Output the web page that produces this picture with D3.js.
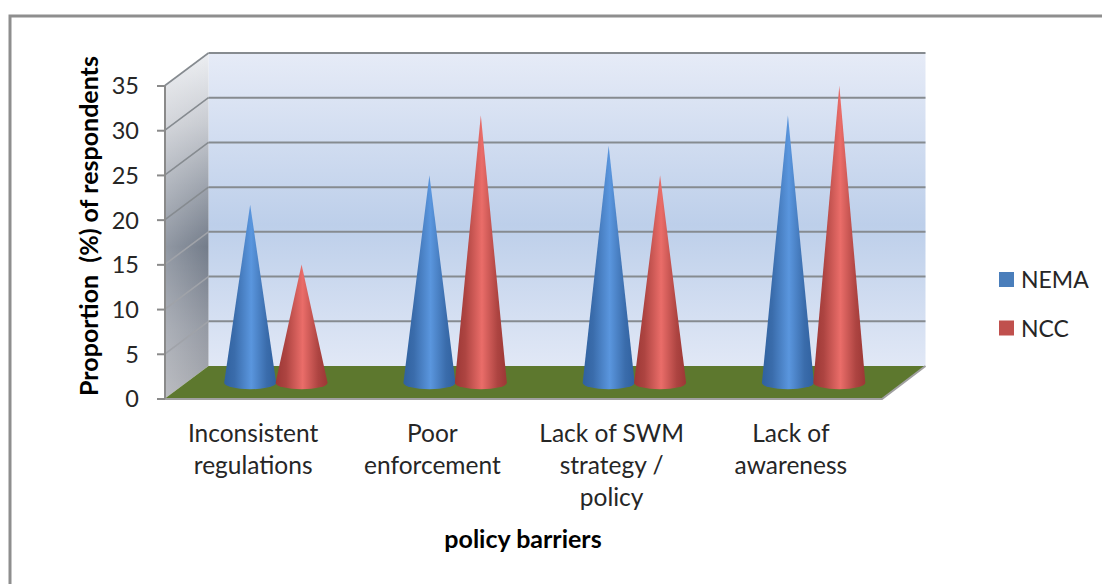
<!DOCTYPE html>
<html>
<head>
<meta charset="utf-8">
<script src="https://cdnjs.cloudflare.com/ajax/libs/d3/7.9.0/d3.min.js"></script>
<style>
  html, body { margin: 0; padding: 0; background: #fff; }
  svg { display: block; }
  text { font-family: Lato, "Open Sans", sans-serif; fill: #262626; white-space: pre; }
  text.title { fill: #000; font-weight: 700; font-size: 25px; }
</style>
</head>
<body>
<svg id="chart" width="1102" height="584"></svg>
<script>
// Survey results: share of respondents naming each policy barrier.
const categories = [["Inconsistent", "regulations"], ["Poor", "enforcement"], ["Lack of SWM", "strategy /", "policy"], ["Lack of", "awareness"]];
const seriesNames = ["NEMA", "NCC"];
const nemaValues = [19.8, 23.1, 26.4, 29.8];
const nccValues = [13.1, 29.8, 23.1, 33.1];
const yTicks = [0, 5, 10, 15, 20, 25, 30, 35];
const seriesColors = { NEMA: ["#3a6cab", "#5a96de", "#30619f", "#4a7ebb"], NCC: ["#ad4441", "#ea6d69", "#9c3735", "#c0504d"] };

const svg = d3.select("#chart");
const defs = svg.append("defs");

// Frame of the oblique 3-D box: front plane plus a depth offset toward the back wall.
const frontLeft = 165, frontRight = 882, frontBase = 398.5, frontTop = 85.5;
const depthX = 43.5, depthY = -32.5;

const y = d3.scaleLinear().domain([0, 35]).range([frontBase, frontTop]);
const xBand = d3.scaleBand().domain(d3.range(categories.length)).range([frontLeft, frontRight]);
const xSeries = d3.scalePoint().domain(seriesNames).range([-25.7, 25.7]);

function gradient(id, x2, y2, list) {
  const g = defs.append("linearGradient").attr("id", id)
    .attr("x1", 0).attr("y1", 0).attr("x2", x2).attr("y2", y2);
  list.forEach(([o, c, a = 1]) => g.append("stop").attr("offset", o).attr("stop-color", c).attr("stop-opacity", a));
}

gradient("wall", 0, 1, [[0, "#e6ebf7"], [0.55, "#bdcfea"], [1, "#e1e8f6"]]);
gradient("side", 0, 1, [[0, "#eceef2"], [0.2, "#c9ccd2"], [0.56, "#737c8a"], [0.8, "#959aa4"], [1, "#a8aab0"]]);
gradient("sideLight", 1, 0, [[0, "#ffffff", 0.22], [1, "#ffffff", 0]]);

seriesNames.forEach(name => {
  const [edge, hi, dark] = seriesColors[name];
  gradient("cone" + name, 1, 0, [[0, dark], [0.2, edge], [0.52, hi], [0.82, edge], [1, dark]]);
});

const poly = pts => pts.map(p => p.join(",")).join(" ");

// Chart frame: only the top and left edges fall inside the page.
svg.append("path").attr("d", "M10,584V16H1102").attr("fill", "none").attr("stroke", "#8e8e8e").attr("stroke-width", 3);

const plot = svg.append("g");

// Back wall
plot.append("rect")
  .attr("x", frontLeft + depthX).attr("y", y(35) + depthY)
  .attr("width", frontRight - frontLeft).attr("height", y(0) - y(35))
  .attr("fill", "url(#wall)");

// Side wall, shaded downward and darkening toward its inner edge
const sidePoints = poly([[frontLeft, y(35)], [frontLeft + depthX, y(35) + depthY], [frontLeft + depthX, y(0) + depthY], [frontLeft, y(0)]]);
plot.append("polygon").attr("points", sidePoints).attr("fill", "url(#side)");
plot.append("polygon").attr("points", sidePoints).attr("fill", "url(#sideLight)");

// Floor
plot.append("polygon")
  .attr("points", poly([[frontLeft, y(0)], [frontLeft + depthX, y(0) + depthY], [frontRight + depthX, y(0) + depthY], [frontRight, y(0)]]))
  .attr("fill", "#5d782e");

// Gridlines run along the side wall and across the back wall.
const gridValues = yTicks.slice(1);
plot.append("g").selectAll("path").data(gridValues).join("path")
  .attr("d", d => `M${frontLeft + depthX},${y(d) + depthY}H${frontRight + depthX}`)
  .attr("fill", "none").attr("stroke", "#868b90").attr("stroke-width", 2);
plot.append("g").selectAll("path").data(gridValues).join("path")
  .attr("d", d => `M${frontLeft},${y(d)}L${frontLeft + depthX},${y(d) + depthY}`)
  .attr("fill", "none").attr("stroke", d => d <= 15 ? "#a0a3a9" : "#868b90").attr("stroke-width", 1.6);

// Floor's front edge and the value axis
plot.append("path")
  .attr("d", `M${frontLeft},${y(0) + 0.5}H${frontRight}L${frontRight + depthX},${y(0) + depthY}`)
  .attr("fill", "none").attr("stroke", "#a0a0a0").attr("stroke-width", 2);
plot.append("path").attr("d", `M${frontLeft},${y(35)}V${y(0)}`).attr("stroke", "#8a8a8a").attr("stroke-width", 2);

const axisG = plot.append("g").attr("transform", `translate(${frontLeft},0)`)
  .call(d3.axisLeft(y).tickValues(yTicks).tickSize(8).tickPadding(18).tickFormat(d3.format("d")));
axisG.select(".domain").remove();
axisG.selectAll("line").attr("stroke", "#8a8a8a").attr("stroke-width", 2);
axisG.selectAll("text").style("font-size", "23.5px").attr("fill", "#262626").attr("dy", "0.36em");

// Cones stand halfway back into the box.
const midX = depthX / 2 - 0.5, midY = depthY / 2 - 0.5;
const rx = 26, ry = 6.5;
const series = [{ name: "NEMA", values: nemaValues }, { name: "NCC", values: nccValues }];

const cones = plot.append("g");
series.forEach(s => {
  s.values.forEach((v, i) => {
    const cx = xBand(i) + xBand.bandwidth() / 2 + midX + xSeries(s.name);
    const by = y(0) + midY;
    const tip = y(v) + midY;
    cones.append("path")
      .attr("d", `M${cx - rx},${by + 1}L${cx},${tip}L${cx + rx},${by + 1}A${rx},${ry} 0 0 1 ${cx - rx},${by + 1}Z`)
      .attr("fill", `url(#cone${s.name})`);
  });
});

// Category labels
const catG = plot.append("g");
categories.forEach((lines, i) => {
  const cx = xBand(i) + xBand.bandwidth() / 2 - 1.5;
  const t = catG.append("text").attr("text-anchor", "middle").style("font-size", "24.5px");
  lines.forEach((line, j) => t.append("tspan").attr("x", cx).attr("y", 442 + j * 32).text(line));
});

// Axis titles
svg.append("text").attr("class", "title").attr("x", 523).attr("y", 548).attr("text-anchor", "middle")
  .text("policy barriers");
svg.append("text").attr("class", "title").attr("transform", "translate(98,226) rotate(-90)").attr("text-anchor", "middle")
  .text("Proportion  (%) of respondents");

// Legend
const legend = svg.append("g");
series.forEach((s, i) => {
  const ly = 280 + i * 48.5;
  legend.append("rect").attr("x", 999).attr("y", ly - 8).attr("width", 15).attr("height", 15)
    .attr("fill", seriesColors[s.name][3]);
  legend.append("text").attr("x", 1021).attr("y", ly + 8).style("font-size", "23px").text(s.name);
});
</script>
</body>
</html>
